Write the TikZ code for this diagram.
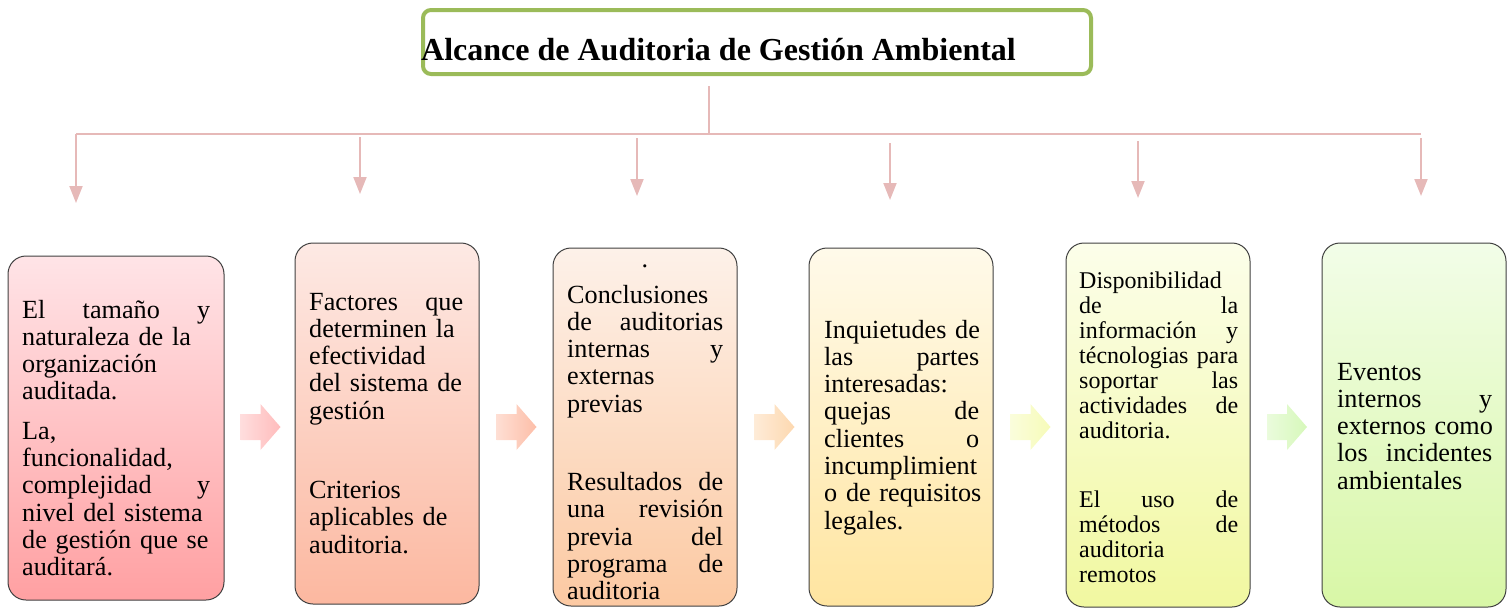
\documentclass[tikz,border=0pt]{standalone}
\usepackage{fontspec}
\setmainfont{Liberation Serif}
\usetikzlibrary{arrows.meta}
\definecolor{linkpink}{HTML}{E6B9B8}
\definecolor{titlegreen}{HTML}{9BBB59}
\definecolor{cardline}{HTML}{404040}
\definecolor{topA}{HTML}{FFE4E7}
\definecolor{botA}{HTML}{FFA0A2}
\definecolor{topB}{HTML}{FDE9E4}
\definecolor{botB}{HTML}{FCB8A0}
\definecolor{topC}{HTML}{FDF1E9}
\definecolor{botC}{HTML}{FCC9A2}
\definecolor{topD}{HTML}{FFFAEA}
\definecolor{botD}{HTML}{FFE5A0}
\definecolor{topE}{HTML}{FCFEEA}
\definecolor{botE}{HTML}{F1F8A0}
\definecolor{topF}{HTML}{F2FDE8}
\definecolor{botF}{HTML}{D8F7A6}
\definecolor{chevA}{HTML}{FFBCBC}
\definecolor{chevB}{HTML}{FDBEA8}
\definecolor{chevC}{HTML}{FDD8B0}
\definecolor{chevD}{HTML}{F6FBB8}
\definecolor{chevE}{HTML}{D6F8BA}
\tikzset{
	link/.style={draw=linkpink, line width=2pt},
	down/.style={link, -{Triangle[width=13pt,length=17pt]}},
	card/.style={draw=cardline, line width=1pt, rounded corners=18pt},
	cardtext/.style={anchor=base west, inner sep=0pt, align=left, font=\fontsize{26.2}{27.3}\selectfont},
}
\begin{document}
\begin{tikzpicture}[x=1pt,y=-1pt]
	\useasboundingbox (0,0) rectangle (1508,608);
	\node[draw=titlegreen, line width=4pt, rounded corners=8pt, minimum width=668pt, minimum height=64pt] (title) at (757,42) {};
	\node[anchor=base west, inner sep=0pt, font=\fontsize{32}{36}\selectfont\bfseries] (titletext) at (421,60) {Alcance de Auditoria de Gestión Ambiental};
	\coordinate (hub) at (709,134);
	\foreach \x/\ya/\yb [count=\i] in {76/134/203, 360/137/194, 637/138/196, 890/143/200, 1138/141/198, 1421/138/196} {
		\coordinate (top\i) at (\x,\ya);
		\coordinate (tip\i) at (\x,\yb);
		\draw[down] (top\i) -- (tip\i);
	}
	\draw[link] ([yshift=-10pt]title.south -| hub) -- (hub);
	\draw[link] (top1) -- (top6 |- top1);
	\node[card, top color=topA, bottom color=botA, minimum width=216pt, minimum height=344pt] (b1) at (116,428) {};
	\node[card, top color=topB, bottom color=botB, minimum width=184pt, minimum height=361pt] (b2) at (387,423.5) {};
	\node[card, top color=topC, bottom color=botC, minimum width=184pt, minimum height=358pt] (b3) at (645,427) {};
	\node[card, top color=topD, bottom color=botD, minimum width=184pt, minimum height=358pt] (b4) at (901,427) {};
	\node[card, top color=topE, bottom color=botE, minimum width=184pt, minimum height=364pt] (b5) at (1158,425) {};
	\node[card, top color=topF, bottom color=botF, minimum width=184pt, minimum height=364pt] (b6) at (1414,425) {};
	\foreach \x/\ca in {260.5/chevA, 516.5/chevB, 774.5/chevC, 1030.5/chevD, 1287/chevE}
		\shade[left color=\ca!50, right color=\ca] (\x-20,414) -- (\x,414) -- (\x,404) -- (\x+20,427) -- (\x,450) -- (\x,440) -- (\x-20,440) -- cycle;
	\node[cardtext, text width=188pt] (t1) at (22,318) {El\hfill tamaño\hfill y\\ \mbox{naturaleza de la}\\ organización\\ auditada.\\[12pt] La,\\ funcionalidad,\\ complejidad\hfill y\\ \mbox{nivel del sistema}\\ \mbox{de gestión que se}\\ auditará.};
	\node[cardtext, text width=154pt] (t2) at (309,310) {Factores\hfill que\\ \mbox{determinen la}\\ efectividad\\ \mbox{del sistema de}\\ gestión\\[52pt] Criterios\\ \mbox{aplicables de}\\ auditoria.};
	\node[anchor=base, inner sep=0pt, font=\fontsize{26.2}{27.3}\selectfont] (t3dot) at (645,267) {.};
	\node[cardtext, text width=156pt] (t3) at (567,303) {Conclusiones\\ de\hfill auditorias\\ internas\hfill y\\ externas\\ previas\\[51pt] Resultados\hfill de\\ una\hfill revisión\\ previa\hfill del\\ programa\hfill de\\ auditoria};
	\node[cardtext, text width=155pt] (t4) at (824,338) {\mbox{Inquietudes de}\\ las\hfill partes\\ interesadas:\\ quejas\hfill de\\ clientes\hfill o\\ incumplimient\\ \mbox{o de requisitos}\\ legales.};
	\node[cardtext, text width=159pt, font=\fontsize{24}{25}\selectfont] (t5) at (1079,288) {Disponibilidad\\ de\hfill la\\ información\hfill y\\ técnologias\hfill para\\ soportar\hfill las\\ actividades\hfill de\\ auditoria.\\[44pt] El\hfill uso\hfill de\\ métodos\hfill de\\ auditoria\\ remotos};
	\node[cardtext, text width=155pt] (t6) at (1337,380) {Eventos\\ internos\hfill y\\ \mbox{externos como}\\ los\hfill incidentes\\ ambientales};
\end{tikzpicture}
\end{document}
